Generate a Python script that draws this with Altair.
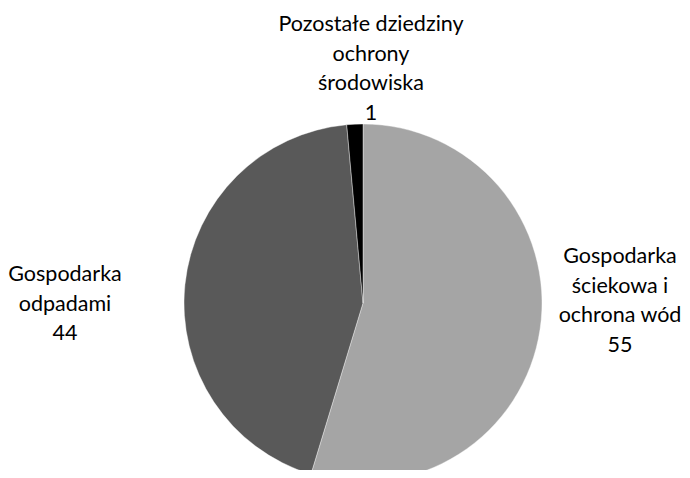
import altair as alt
import pandas as pd

categories = ["Gospodarka ściekowa i ochrona wód", "Gospodarka odpadami", "Pozostałe dziedziny ochrony środowiska"]
label_lines = ["Gospodarka\nściekowa i\nochrona wód", "Gospodarka\nodpadami", "Pozostałe dziedziny\nochrony\nśrodowiska"]
shares = [54.7, 43.85, 1.45]
shown_values = ["55", "44", "1"]
order = [1, 2, 3]
colors = ["#A5A5A5", "#595959", "#000000"]

df = pd.DataFrame({
    "category": categories,
    "lines": label_lines,
    "share": shares,
    "shown": shown_values,
    "order": order,
})
df["label"] = df["lines"] + "\n" + df["shown"]

base = alt.Chart(df)

pie = base.mark_arc(outerRadius=179, stroke="white", strokeWidth=0.4).encode(
    theta=alt.Theta("share:Q", stack=True),
    order=alt.Order("order:Q"),
    color=alt.Color("category:N", scale=alt.Scale(domain=categories, range=colors), legend=None),
    x=alt.value(355),
    y=alt.value(295),
)

def label_layer(cat, x, y):
    return base.mark_text(
        lineBreak="\n", font="Lato", fontSize=21.5, lineHeight=29.5,
        align="center", baseline="middle", color="#000000"
    ).encode(
        text="label:N", x=alt.value(x), y=alt.value(y)
    ).transform_filter(alt.datum.category == cat)

chart = alt.layer(
    pie,
    label_layer(categories[0], 612, 249),
    label_layer(categories[1], 57, 267),
    label_layer(categories[2], 363, 17),
).properties(
    width=674, height=462, padding=0, autosize=alt.AutoSizeParams(type="none")
).configure_view(stroke=None)

chart.save("out.html", embed_options={"renderer": "svg", "actions": False})
